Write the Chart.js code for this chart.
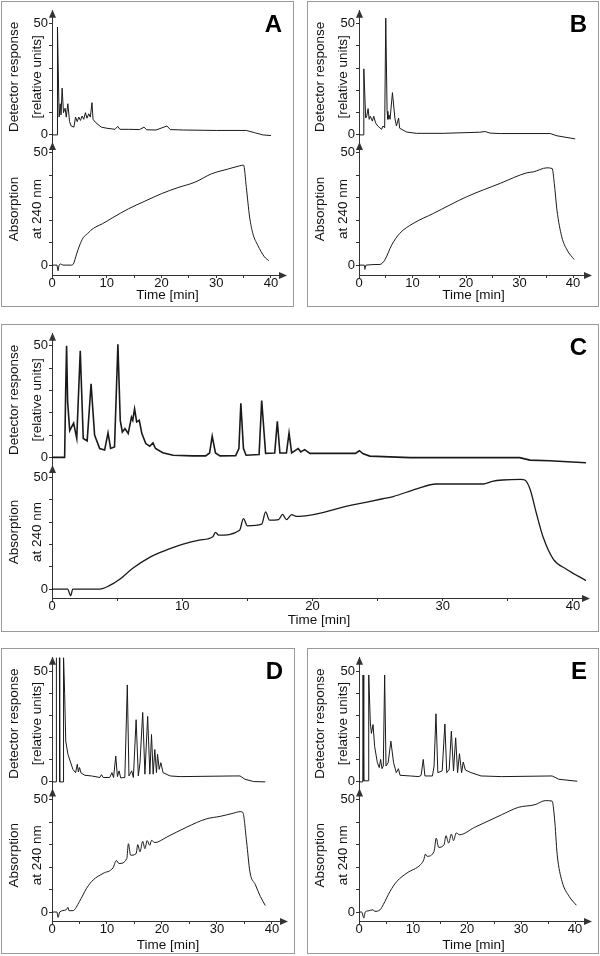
<!DOCTYPE html>
<html>
<head>
<meta charset="utf-8">
<script src="https://cdn.jsdelivr.net/npm/chart.js@4.4.1/dist/chart.umd.min.js"></script>
<style>
body { margin: 0; background: #fff; width: 600px; height: 956px; position: relative; overflow: hidden; font-family: "Liberation Sans", Arial, sans-serif; }
.panel { position: absolute; border: 1px solid #9a9a9a; box-sizing: border-box; }
.panel canvas { position: absolute; left: 0; top: 0; }
.tag { position: absolute; top: 10px; right: 11px; font-weight: bold; font-size: 24px; line-height: 24px; color: #000; }
</style>
</head>
<body>
<div class="panel" style="left:1px;top:1px;width:293px;height:306px"><canvas id="cA" width="291" height="304"></canvas><div class="tag">A</div></div>
<div class="panel" style="left:307px;top:1px;width:292px;height:306px"><canvas id="cB" width="290" height="304"></canvas><div class="tag">B</div></div>
<div class="panel" style="left:1px;top:324px;width:598px;height:308px"><canvas id="cC" width="596" height="306"></canvas><div class="tag">C</div></div>
<div class="panel" style="left:1px;top:648px;width:294px;height:306px"><canvas id="cD" width="292" height="304"></canvas><div class="tag">D</div></div>
<div class="panel" style="left:307px;top:648px;width:292px;height:306px"><canvas id="cE" width="290" height="304"></canvas><div class="tag">E</div></div>

<script>
// ticks
const xTicks = [0, 5, 10, 15, 20, 25, 30, 35, 40];
const xTickLabels = [0, 10, 20, 30, 40];
const yTicks = [0, 10, 20, 30, 40, 50];
const yTickLabels = [0, 50];

// panel A
const aDetTime = [0, 0.95, 1.0, 1.3, 1.5, 1.65, 1.85, 2.1, 2.4, 2.6, 2.9, 3.2, 3.5, 4.0, 4.3, 4.6, 4.9, 5.2, 5.5, 5.8, 6.1, 6.4, 6.7, 7.0, 7.3, 7.5, 8.0, 9.0, 10.0, 11.5, 12.0, 12.4, 14.0, 16.0, 16.8, 17.3, 19.0, 21.0, 21.6, 24.0, 30.0, 35.5, 37.0, 38.5, 40.0];
const aDetResp = [0, 0, 48.5, 8, 14, 9, 21, 10, 12, 8, 14, 6, 4, 3.5, 8, 6, 8, 6.5, 8.5, 7, 10, 7.5, 9.5, 8, 14.5, 7, 5.5, 3.5, 3, 2.5, 3.8, 2.5, 2.5, 2.4, 3.5, 2.3, 2.2, 4, 2.4, 2.2, 2, 2, 1, 0, -0.3];
const aAbsTime = [0, 0.9, 1.1, 1.3, 1.6, 2, 3.5, 3.9, 4.5, 5.0, 5.7, 6.5, 7.1, 8, 9.2, 11, 14, 17, 20, 23, 26.1, 29.1, 30.5, 32.2, 34.3, 35.0, 35.5, 36.1, 36.7, 37.6, 38.8, 39.6];
const aAbs = [0, 0, -2.5, 0, 0.5, 0, 0, 0.5, 5, 8.5, 12.2, 14, 15.5, 17, 18.4, 21, 25.1, 28.5, 31.8, 34.5, 36.9, 40.6, 41.7, 42.8, 44.2, 44.5, 34.6, 21.4, 14, 8.8, 3.7, 2];

// panel B
const bDetTime = [0, 0.85, 0.9, 1.25, 1.45, 1.7, 1.9, 2.1, 2.5, 2.75, 3.1, 3.5, 3.9, 4.2, 4.5, 4.8, 5.0, 5.25, 5.4, 5.6, 5.8, 6.25, 6.7, 7.0, 7.4, 7.6, 8.9, 10.75, 15.75, 22.5, 23.6, 24.5, 26.4, 35.75, 37, 40.4];
const bDetResp = [0, 0, 29.7, 7.6, 8.5, 11.8, 7, 8.4, 6.2, 8.4, 5.4, 4, 3.2, 2.5, 4, 3.2, 52.5, 10.6, 7, 9, 7, 19, 7.6, 4, 7.6, 3, 1.3, 0.7, 0.7, 1.2, 1.5, 0.8, 0.6, 0.6, -0.4, -1.8];
const bAbsTime = [0, 1.0, 1.1, 1.3, 3.9, 4.8, 6.1, 7.6, 10.1, 13.9, 20.1, 26.4, 31.4, 32.6, 35.1, 36.1, 36.5, 37.0, 37.9, 38.9, 40.2];
const bAbs = [0, 0, -1.9, 0, 0.3, 2.2, 8.9, 14.1, 18.5, 23, 30.4, 36.4, 41.1, 41.5, 43.3, 43, 36.4, 24.5, 12.6, 6.7, 2.5];

// panel C
const cDetTime = [0, 0.97, 1.05, 1.12, 1.2, 1.36, 1.66, 1.9, 2.17, 2.4, 2.7, 3.0, 3.27, 3.66, 4.04, 4.3, 4.5, 4.8, 5.06, 5.24, 5.4, 5.6, 5.85, 6.1, 6.2, 6.34, 6.5, 6.7, 6.9, 7.2, 7.5, 7.75, 7.95, 8.5, 9.3, 10.8, 11.8, 12.1, 12.3, 12.55, 12.9, 14.1, 14.35, 14.5, 14.7, 14.9, 15.9, 16.1, 16.4, 17.1, 17.3, 17.5, 18.0, 18.2, 18.4, 18.9, 19.1, 19.4, 19.8, 23.3, 23.6, 23.9, 24.4, 27.5, 35.9, 36.7, 38.2, 41.0];
const cDetResp = [0, 0, 30, 50, 25, 12, 15.4, 8.5, 47.8, 8.5, 7.4, 33, 10, 4, 3.3, 11, 4, 4.7, 50.7, 16.6, 11.4, 12.9, 10.7, 18, 16.6, 21.8, 15.9, 16.6, 10.7, 6.2, 5, 6.5, 4, 2.1, 1, 0.7, 0.7, 2, 9.5, 2, 0.7, 0.8, 4, 24.3, 4, 1, 1.3, 25.5, 1.8, 2, 16.2, 2, 2, 11, 2, 4, 2.5, 3.5, 1.8, 1.8, 3, 1.6, 0.6, -0.1, -0.1, -1.2, -1.5, -2.4];
const cAbsTime = [0, 1.2, 1.43, 1.6, 3.66, 4.4, 5.2, 6.2, 7.5, 8.8, 10, 11.3, 12.35, 12.55, 12.8, 14.4, 14.7, 15.0, 16.1, 16.4, 16.7, 17.4, 17.7, 18.0, 18.4, 18.75, 19.0, 22.9, 25.4, 26.2, 28, 29.5, 33.1, 33.8, 34.6, 36.0, 36.3, 36.7, 37.2, 37.7, 38.5, 39.5, 41.0];
const cAbs = [0, 0, -3, 0, 0, 1.5, 4.4, 9.3, 14.2, 17.5, 20, 21.9, 23.4, 25.4, 24.1, 26.3, 31.5, 28.3, 29, 34.5, 30.8, 31.1, 33.4, 31.1, 33.3, 32.5, 32.5, 37.4, 40.4, 41.4, 44.8, 47, 47, 48.2, 48.8, 49.1, 48.8, 44.8, 33.7, 23.4, 13.3, 8.9, 3.8];

// panel D
const dDetTime = [0, 0.75, 0.8, 1.35, 1.4, 2.05, 2.1, 2.3, 2.5, 2.9, 3.3, 3.8, 4.3, 4.6, 4.8, 5.0, 5.3, 6.0, 7.2, 8.7, 9.0, 9.3, 10.5, 10.9, 11.2, 11.6, 11.9, 12.2, 12.5, 13.25, 13.7, 14.0, 14.5, 14.8, 15.3, 15.7, 16.0, 16.5, 16.9, 17.4, 17.8, 18.1, 18.4, 18.7, 19.0, 19.2, 19.5, 19.8, 20.2, 21.5, 23.3, 33, 34.2, 35.1, 36.7, 38.8];
const dDetResp = [0, 0, 57, 57, 0, 0, 57, 40, 18.5, 12.5, 9.5, 5.7, 4.2, 8, 4.5, 6.5, 4, 3, 2.7, 2, 3.3, 2, 2, 4.2, 2, 11.7, 2.4, 5, 1.8, 2, 44, 2.7, 5, 2, 28.2, 2.7, 8.5, 31.5, 3.5, 29.7, 3.5, 21.5, 3.5, 14.7, 4.2, 12.5, 5.7, 8.7, 4.2, 2.7, 2.4, 2.7, 2.7, 1.2, 0.15, 0];
const dAbsTime = [0, 0.9, 1.1, 1.4, 2.6, 2.9, 3.1, 3.8, 5.0, 6.3, 7.5, 9.3, 11.1, 11.7, 12.2, 13.6, 13.9, 14.3, 15.3, 15.6, 16.0, 16.5, 16.9, 17.3, 17.8, 18.1, 18.7, 20.9, 24.5, 28.1, 30.6, 33, 34.2, 34.7, 35.4, 36.0, 37.0, 37.9, 38.8];
const dAbs = [0, 0, -2.4, 0, 1, 2.1, 0.6, 0.6, 4.7, 10.6, 14.3, 17.2, 19.7, 22.9, 21.6, 23.8, 30.4, 25.3, 26, 30, 26.8, 31.5, 28.2, 31.8, 29.7, 31.9, 30.9, 33.4, 37.8, 41.5, 42.6, 44, 44.7, 44.4, 31.2, 17.9, 12.1, 6.9, 2.9];

// panel E
const eDetTime = [0, 0.7, 0.75, 0.85, 0.9, 1.75, 1.8, 2.1, 2.3, 2.6, 2.9, 3.4, 3.75, 4.0, 4.25, 4.5, 4.75, 5.0, 5.4, 5.9, 6.4, 6.9, 7.3, 7.6, 9.5, 11.1, 11.5, 11.9, 12.2, 13.6, 13.9, 14.25, 14.6, 15.4, 15.9, 16.25, 16.7, 17.1, 17.5, 17.9, 18.25, 18.6, 19.0, 19.3, 19.7, 20.75, 22.6, 26.4, 35.75, 37, 40.4];
const eDetResp = [0, 0, 48.5, 48.5, 0.5, 0.5, 48.5, 26.7, 22, 26, 16, 8.7, 6.5, 10.2, 6, 7.2, 48.5, 7.2, 8.7, 18.5, 8.7, 4.2, 6, 3, 2.7, 2.4, 3, 10.2, 2.7, 2.7, 7.2, 30.9, 4.2, 5, 26.3, 4.2, 5.7, 23, 5, 20, 4.2, 12.8, 4.2, 9, 5.4, 4.2, 2.7, 2.4, 2.7, 1.2, 0.3];
const eAbsTime = [0, 0.5, 0.9, 1.15, 1.7, 2.6, 2.9, 3.9, 4.5, 5.75, 7.0, 8.9, 11.4, 12.0, 12.3, 12.6, 13.9, 14.3, 14.75, 15.75, 16.1, 16.6, 17.1, 17.5, 18.0, 18.6, 21.4, 26.4, 29.5, 32.6, 34.5, 35.75, 36.2, 36.7, 37.6, 38.9, 40.25];
const eAbs = [0, 0, -2.7, 0, 0.5, 1, 0.3, 1, 3.3, 9.2, 13.6, 17.4, 21.1, 23.3, 25.8, 24.8, 27, 32.9, 28.8, 30, 34, 30.7, 34.7, 31.8, 35.2, 34.4, 37.7, 43.3, 46.6, 47.8, 49.6, 49.4, 41.8, 25.5, 13.6, 7, 3];

const ink = '#1a1a1a';
const axisInk = '#333';
const fam = '"Liberation Sans", Arial, Helvetica, sans-serif';

function pts(ts, vs) {
    return ts.map((t, i) => ({ x: t, y: vs[i] }));
}

// arrow heads at the ends of the axes
const axisArrows = {
    id: 'axisArrows',
    afterDraw(chart) {
        const ctx = chart.ctx, a = chart.chartArea;
        const xl = Math.round(a.left) + 0.5;
        ctx.save();
        ctx.fillStyle = axisInk;
        ctx.strokeStyle = axisInk;
        ['yDet', 'yAbs'].forEach(id => {
            const top = chart.scales[id].top - 1;
            ctx.beginPath();
            ctx.moveTo(xl, top);
            ctx.lineTo(xl - 3.5, top + 8);
            ctx.lineTo(xl + 3.5, top + 8);
            ctx.closePath();
            ctx.fill();
        });
        const y = Math.round(chart.scales.x.top) + 0.5;
        const tip = a.right + 4;
        ctx.beginPath();
        ctx.moveTo(a.right, y);
        ctx.lineTo(tip - 4, y);
        ctx.stroke();
        ctx.beginPath();
        ctx.moveTo(tip, y);
        ctx.lineTo(tip - 8, y - 3.5);
        ctx.lineTo(tip - 8, y + 3.5);
        ctx.closePath();
        ctx.fill();
        ctx.restore();
    }
};

function yAxis(g, range, title, weight) {
    return {
        type: 'linear',
        position: 'left',
        stack: 'trace',
        stackWeight: 1,
        weight: weight,
        min: range[0],
        max: range[1],
        afterBuildTicks: s => { s.ticks = yTicks.map(v => ({ value: v })); },
        afterFit: s => { s.width = g.yW; },
        ticks: {
            autoSkip: false,
            callback: v => yTickLabels.includes(v) ? String(v) : '',
            padding: 1,
            color: '#111',
            font: { family: fam, size: 13 }
        },
        grid: { drawOnChartArea: false, drawTicks: true, tickLength: 3, color: axisInk },
        border: { color: axisInk, width: 1 },
        title: {
            display: true,
            text: title,
            color: '#111',
            font: { family: fam, size: 13.5, lineHeight: 1.7 },
            padding: { top: g.yTitlePad, bottom: 0 }
        }
    };
}

function drawPanel(id, g, det, abs) {
    new Chart(document.getElementById(id), {
        type: 'scatter',
        data: {
            datasets: [
                { data: det, yAxisID: 'yDet', showLine: true, pointRadius: 0, borderColor: ink, borderWidth: g.lw, tension: 0 },
                // absorption traces are smooth, so let the library round them off
                { data: abs, yAxisID: 'yAbs', showLine: true, pointRadius: 0, borderColor: ink, borderWidth: g.lw2, cubicInterpolationMode: 'monotone' }
            ]
        },
        options: {
            responsive: false,
            animation: false,
            devicePixelRatio: 1,
            layout: { padding: { top: g.padTop, left: 0, right: g.padRight, bottom: 0 } },
            plugins: { legend: { display: false }, tooltip: { enabled: false } },
            scales: {
                x: {
                    type: 'linear',
                    position: 'bottom',
                    min: 0,
                    max: g.xMax,
                    afterBuildTicks: s => { s.ticks = xTicks.map(v => ({ value: v })); },
                    afterFit: s => { s.height = g.xAxisH; },
                    ticks: {
                        autoSkip: false,
                        maxRotation: 0,
                        callback: v => xTickLabels.includes(v) ? String(v) : '',
                        padding: -1,
                        color: '#111',
                        font: { family: fam, size: 13, lineHeight: 1 }
                    },
                    grid: { drawOnChartArea: false, drawTicks: true, tickLength: 3, color: axisInk },
                    border: { color: axisInk, width: 1 },
                    title: {
                        display: true,
                        text: 'Time [min]',
                        color: '#111',
                        font: { family: fam, size: 13.5 },
                        padding: { top: 0, bottom: g.xTitlePad }
                    }
                },
                yAbs: yAxis(g, g.abs, ['Absorption', 'at 240 nm'], 0),
                yDet: yAxis(g, g.det, ['Detector response', '[relative units]'], 1)
            }
        },
        plugins: [axisArrows]
    });
}

const geomA = { padTop: 7, padRight: 10, xAxisH: 31, xMax: 42.2, yW: 50, det: [-3.6, 55.8], abs: [-4.4, 54.4], yTitlePad: 0.6, xTitlePad: 2.9, lw: 1, lw2: 1 };
const geomB = Object.assign({}, geomA, { yW: 51, xMax: 42.8 });
const geomC = { padTop: 8, padRight: 12, xAxisH: 33, xMax: 41.0, yW: 50, det: [-3.8, 55.4], abs: [-4.0, 55.1], yTitlePad: 0.6, xTitlePad: 2.9, lw: 1.6, lw2: 1.3 };
const geomD = { padTop: 7, padRight: 10, xAxisH: 32, xMax: 42.2, yW: 50, det: [-3.4, 56.3], abs: [-4.0, 54.6], yTitlePad: 0.6, xTitlePad: 0, lw: 1, lw2: 1 };
const geomE = Object.assign({}, geomD, { yW: 51, xMax: 42.4 });

drawPanel('cA', geomA, pts(aDetTime, aDetResp), pts(aAbsTime, aAbs));
drawPanel('cB', geomB, pts(bDetTime, bDetResp), pts(bAbsTime, bAbs));
drawPanel('cC', geomC, pts(cDetTime, cDetResp), pts(cAbsTime, cAbs));
drawPanel('cD', geomD, pts(dDetTime, dDetResp), pts(dAbsTime, dAbs));
drawPanel('cE', geomE, pts(eDetTime, eDetResp), pts(eAbsTime, eAbs));
</script>
</body>
</html>
